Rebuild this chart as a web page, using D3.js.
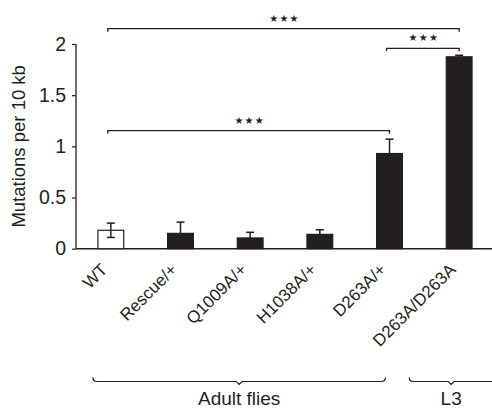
<!DOCTYPE html>
<html>
<head>
<meta charset="utf-8">
<script src="https://cdn.jsdelivr.net/npm/d3@7"></script>
<style>
  body { margin: 0; background: #fff; }
  svg { display: block; }
  text { font-family: "Liberation Sans", Arial, Helvetica, sans-serif; fill: #231f20; }
</style>
</head>
<body>
<div id="chart"></div>
<script>
"use strict";

// genotypes on the x axis
var categories = ["WT", "Rescue/+", "Q1009A/+", "H1038A/+", "D263A/+", "D263A/D263A"];
// mutations per 10 kb (mean) and error (s.e.m.)
var means = [0.18, 0.15, 0.105, 0.14, 0.93, 1.875];
var errors = [0.07, 0.11, 0.055, 0.045, 0.14, 0.015];
var yTicks = [0, 0.5, 1, 1.5, 2];
var tickLabels = ["0", "0.5", "1", "1.5", "2"];

// significance brackets: from bar, to bar, height (data units), label
var sigFrom = [0, 4, 0];
var sigTo = [5, 5, 4];
var sigLevel = [2.15, 1.958, 1.153];
var sigLabel = ["\u2605\u2605\u2605", "\u2605\u2605\u2605", "\u2605\u2605\u2605"];

// group braces below the labels
var groupNames = ["Adult flies", "L3"];
var groupFirst = [0, 5];
var groupLast = [4, 5];

var width = 492,
  height = 409;

var svg = d3
  .select("#chart")
  .append("svg")
  .attr("width", width)
  .attr("height", height);

var x = d3
  .scaleBand()
  .domain(categories)
  .range([76, 494])
  .paddingInner(0.63)
  .paddingOuter(0.315);

var y = d3.scaleLinear().domain([0, 2]).range([248.7, 44]);

var ink = "#231f20";
var cx = function(i) {
  return x(categories[i]) + x.bandwidth() / 2;
};

// y axis
var yAxis = d3
  .axisLeft(y)
  .tickValues(yTicks)
  .tickFormat(function(d, i) {
    return tickLabels[i];
  })
  .tickSize(4)
  .tickPadding(6);

var gy = svg
  .append("g")
  .attr("transform", "translate(76,0)")
  .call(yAxis);
gy.select(".domain").attr("d", "M0," + y(2) + "V" + y(0)).attr("stroke", ink).attr("stroke-width", 1.3);
gy.selectAll(".tick line").attr("stroke", ink).attr("stroke-width", 1.2);
gy.selectAll(".tick text")
  .style("font-size", "19.5px")
  .style("font-family", "'Liberation Sans', Arial, sans-serif")
  .attr("fill", ink);

// y title
svg
  .append("text")
  .attr("transform", "translate(25," + y(1.0) + ") rotate(-90)")
  .attr("text-anchor", "middle")
  .style("font-size", "18.5px")
  .text("Mutations per 10 kb");

// x axis baseline
var xAxis = d3.axisBottom(x).tickSize(0).tickFormat("");
var gx = svg
  .append("g")
  .attr("transform", "translate(0," + y(0) + ")")
  .call(xAxis);
gx.select(".domain").attr("d", "M76,0H" + width).attr("stroke", ink).attr("stroke-width", 1.5);

// x labels, rotated
svg
  .selectAll(".xlab")
  .data(categories)
  .enter()
  .append("text")
  .attr("class", "xlab")
  .attr("text-anchor", "end")
  .style("font-size", "17px")
  .attr("transform", function(d, i) {
    return "translate(" + (cx(i) - 2.5) + "," + (y(0) + 22) + ") rotate(-45)";
  })
  .text(function(d) {
    return d;
  });

// bars
svg
  .selectAll(".bar")
  .data(means)
  .enter()
  .append("rect")
  .attr("class", "bar")
  .attr("x", function(d, i) {
    return x(categories[i]);
  })
  .attr("y", function(d) {
    return y(d);
  })
  .attr("width", x.bandwidth())
  .attr("height", function(d) {
    return y(0) - y(d);
  })
  .attr("fill", function(d, i) {
    return i === 0 ? "#fff" : ink;
  })
  .attr("stroke", ink)
  .attr("stroke-width", 1.2);

// error bars
var eb = svg
  .selectAll(".err")
  .data(means)
  .enter()
  .append("g")
  .attr("class", "err")
  .attr("stroke", ink)
  .attr("stroke-width", 1.5);
eb.append("line")
  .attr("x1", function(d, i) { return cx(i); })
  .attr("x2", function(d, i) { return cx(i); })
  .attr("y1", function(d, i) { return y(d - errors[i]); })
  .attr("y2", function(d, i) { return y(d + errors[i]); });
eb.append("line")
  .attr("x1", function(d, i) { return cx(i) - 4; })
  .attr("x2", function(d, i) { return cx(i) + 4; })
  .attr("y1", function(d, i) { return y(d + errors[i]); })
  .attr("y2", function(d, i) { return y(d + errors[i]); });
eb.append("line")
  .attr("x1", function(d, i) { return cx(i) - 4; })
  .attr("x2", function(d, i) { return cx(i) + 4; })
  .attr("y1", function(d, i) { return y(d - errors[i]); })
  .attr("y2", function(d, i) { return y(d - errors[i]); });

// significance brackets
var sig = svg
  .selectAll(".sig")
  .data(sigLevel)
  .enter()
  .append("g")
  .attr("class", "sig");
sig.append("path")
  .attr("fill", "none")
  .attr("stroke", ink)
  .attr("stroke-width", 1.3)
  .attr("d", function(d, i) {
    var x1 = cx(sigFrom[i]) - 3,
      x2 = cx(sigTo[i]),
      yy = y(d);
    return "M" + x1 + "," + (yy + 3) + "V" + yy + "H" + x2 + "V" + (yy + 3);
  });
sig.append("text")
  .attr("text-anchor", "middle")
  .style("font-family", "'DejaVu Sans', sans-serif")
  .style("font-size", "10px")
  .attr("letter-spacing", "1.2px")
  .attr("x", function(d, i) {
    return (cx(sigFrom[i]) - 3 + cx(sigTo[i])) / 2 + 1;
  })
  .attr("y", function(d) {
    return y(d) - 7;
  })
  .text(function(d, i) {
    return sigLabel[i];
  });

// group braces
var braceY = 381.5;
var gb = svg
  .selectAll(".brace")
  .data(groupNames)
  .enter()
  .append("g")
  .attr("class", "brace");
gb.append("path")
  .attr("fill", "none")
  .attr("stroke", ink)
  .attr("stroke-width", 1.2)
  .attr("d", function(d, i) {
    var x1 = x(categories[groupFirst[i]]) - (i === 0 ? 5 : 37),
      x2 = i === 0 ? x(categories[groupLast[i]]) + x.bandwidth() - 17 : width + 10,
      m = i === 0 ? (x1 + x2) / 2 : cx(groupFirst[i]) - 8;
    return (
      "M" + x1 + "," + (braceY - 4) +
      "Q" + x1 + "," + braceY + " " + (x1 + 4) + "," + braceY +
      "H" + (m - 3) + "L" + m + "," + (braceY + 3) + "L" + (m + 3) + "," + braceY +
      "H" + (x2 - 4) +
      "Q" + x2 + "," + braceY + " " + x2 + "," + (braceY - 4)
    );
  });
gb.append("text")
  .attr("text-anchor", "middle")
  .style("font-size", "19px")
  .attr("x", function(d, i) {
    var x1 = x(categories[groupFirst[i]]) - 5,
      x2 = x(categories[groupLast[i]]) + x.bandwidth() - 17;
    return i === 0 ? (x1 + x2) / 2 : cx(groupFirst[i]) - 8;
  })
  .attr("y", 405)
  .text(function(d) {
    return d;
  });
</script>
</body>
</html>
